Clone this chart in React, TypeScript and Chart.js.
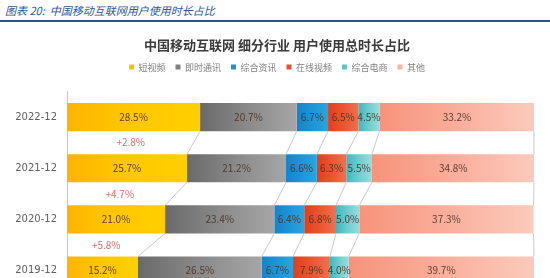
import React, { useEffect, useRef } from "react";
import { Chart, registerables } from "chart.js";

Chart.register(...registerables);

const categories = ["2022-12", "2021-12", "2020-12", "2019-12"];
const seriesNames = ["短视频", "即时通讯", "综合资讯", "在线视频", "综合电商", "其他"];
const shortVideo = [28.5, 25.7, 21.0, 15.2];
const instantMsg = [20.7, 21.2, 23.4, 26.5];
const newsInfo = [6.7, 6.6, 6.4, 6.7];
const onlineVideo = [6.5, 6.3, 6.8, 7.9];
const ecommerce = [4.5, 5.5, 5.0, 4.0];
const others = [33.2, 34.8, 37.3, 39.7];
const growthLabels = ["+2.8%", "+4.7%", "+5.8%"];

const seriesValues = [shortVideo, instantMsg, newsInfo, onlineVideo, ecommerce, others];
const gradientStops: [string, string, string][] = [
  ["#FFB400", "#FFC800", "#FFCF00"],
  ["#6A6A6A", "#8A8A8A", "#A6A6A6"],
  ["#1683C8", "#1E95D6", "#2BA4DE"],
  ["#E0401C", "#EA5530", "#F07050"],
  ["#3DB7BE", "#6FCDCF", "#9ADDDC"],
  ["#F7937B", "#FAAE9B", "#FCCABC"],
];
const legendColors = ["#FFC000", "#808080", "#1E90D0", "#E84E2C", "#60C6C8", "#F9B3A2"];

function cumulative(idx: number, upto: number) {
  let s = 0;
  for (let k = 0; k < upto; k++) s += seriesValues[k][idx];
  return s;
}

const HEADER_SHIFT = 10;

const legendGapPlugin = {
  id: "legendGap",
  beforeInit(chart: any) {
    const lg = chart.legend;
    if (!lg) return;
    const orig = lg.fit;
    lg.fit = function () {
      orig.call(this);
      this.height += 10;
    };
  },
  afterLayout(chart: any) {
    const boxes = [chart.titleBlock, chart.legend];
    boxes.forEach((b: any) => {
      if (!b) return;
      b.left += HEADER_SHIFT;
      b.right += HEADER_SHIFT;
    });
  },
};

const connectorPlugin = {
  id: "connectors",
  afterDatasetsDraw(chart: any) {
    const ctx = chart.ctx;
    const x = chart.scales.x;
    const meta0 = chart.getDatasetMeta(0);
    ctx.save();
    ctx.strokeStyle = "rgba(195,195,195,0.9)";
    ctx.lineWidth = 1;
    for (let i = 0; i < categories.length - 1; i++) {
      const a: any = meta0.data[i];
      const b: any = meta0.data[i + 1];
      if (!a || !b) continue;
      const aBottom = a.y + a.height / 2;
      const bTop = b.y - b.height / 2;
      for (let k = 1; k <= seriesValues.length; k++) {
        const xa = x.getPixelForValue(Math.min(100, cumulative(i, k)));
        const xb = x.getPixelForValue(Math.min(100, cumulative(i + 1, k)));
        ctx.beginPath();
        ctx.moveTo(xa, aBottom);
        ctx.lineTo(xb, bTop);
        ctx.stroke();
      }
      const lowerYellow = shortVideo[i + 1];
      const gx = x.getPixelForValue(lowerYellow / 2 + 0.8);
      const gy = (aBottom + bTop) / 2;
      ctx.fillStyle = "#E06A6A";
      ctx.font = "10px 'Noto Sans CJK SC', 'DejaVu Sans', sans-serif";
      ctx.textAlign = "center";
      ctx.textBaseline = "middle";
      ctx.fillText(growthLabels[i], gx, gy);
    }
    ctx.restore();
  },
};

const valueLabelPlugin = {
  id: "valueLabels",
  afterDatasetsDraw(chart: any) {
    const ctx = chart.ctx;
    ctx.save();
    ctx.font = "10px 'Noto Sans CJK SC', 'DejaVu Sans', sans-serif";
    ctx.textAlign = "center";
    ctx.textBaseline = "middle";
    ctx.fillStyle = "rgba(75,50,35,0.9)";
    chart.data.datasets.forEach((ds: any, di: number) => {
      const meta = chart.getDatasetMeta(di);
      meta.data.forEach((el: any, i: number) => {
        const v = ds.data[i];
        const cx = (el.x + el.base) / 2;
        ctx.fillText(v.toFixed(1) + "%", cx, el.y);
      });
    });
    ctx.restore();
  },
};

export default function App() {
  const ref = useRef<HTMLCanvasElement | null>(null);
  useEffect(() => {
    if (!ref.current) return;
    const chart = new Chart(ref.current, {
      type: "bar",
      data: {
        labels: categories,
        datasets: seriesNames.map((name, di) => ({
          label: name,
          data: seriesValues[di],
          borderWidth: 0,
          backgroundColor: (c: any) => {
            const ch = c.chart;
            if (!ch.chartArea || c.dataIndex === undefined || c.type !== "data") return legendColors[di];
            const xs = ch.scales.x;
            const start = cumulative(c.dataIndex, di);
            const x0 = xs.getPixelForValue(start);
            const x1 = xs.getPixelForValue(start + seriesValues[di][c.dataIndex]);
            const g = ch.ctx.createLinearGradient(x0, 0, x1, 0);
            g.addColorStop(0, gradientStops[di][0]);
            g.addColorStop(0.5, gradientStops[di][1]);
            g.addColorStop(1, gradientStops[di][2]);
            return g;
          },
        })),
      },
      options: {
        indexAxis: "y",
        responsive: false,
        animation: false,
        datasets: { bar: { categoryPercentage: 1, barPercentage: 0.55 } },
        layout: { padding: { top: 37, right: 16, bottom: 4, left: 0 } },
        scales: {
          x: { stacked: true, display: false, min: 0, max: 100 },
          y: {
            stacked: true,
            grid: { display: false, drawTicks: false },
            border: { display: true, color: "#C8C8C8", width: 1 },
            afterFit: (s: any) => { s.width = 67; },
            ticks: {
              padding: 10,
              color: "#606060",
              font: { size: 10, family: "'DejaVu Sans', 'Noto Sans', sans-serif" },
            },
          },
        },
        plugins: {
          title: {
            display: true,
            text: "中国移动互联网 细分行业 用户使用总时长占比",
            color: "#3A3A3A",
            font: { size: 13, weight: "bold", family: "'Noto Sans CJK SC', sans-serif" },
            padding: { top: 0, bottom: 0 },
          },
          legend: {
            display: true,
            position: "top",
            labels: {
              boxWidth: 5,
              boxHeight: 5,
              padding: 10,
              color: "#808080",
              font: { size: 9, family: "'Noto Sans CJK SC', sans-serif" },
              generateLabels: () =>
                seriesNames.map((n, i) => ({
                  text: n,
                  fillStyle: legendColors[i],
                  strokeStyle: legendColors[i],
                  lineWidth: 0,
                  hidden: false,
                  datasetIndex: i,
                  fontColor: "#808080",
                })),
            },
          },
          tooltip: { enabled: false },
        },
      },
      plugins: [legendGapPlugin, connectorPlugin, valueLabelPlugin],
    } as any);
    return () => chart.destroy();
  }, []);

  return (
    <div style={{ position: "fixed", left: 0, top: 0, width: 550, height: 312, background: "#fff", overflow: "hidden" }}>
      <div
        style={{
          position: "absolute",
          left: 5,
          top: 2,
          fontFamily: "'Noto Sans CJK SC', sans-serif",
          fontStyle: "italic",
          fontSize: 11,
          color: "#2F5597",
          whiteSpace: "nowrap",
        }}
      >
        图表 20:&nbsp; 中国移动互联网用户使用时长占比
      </div>
      <div style={{ position: "absolute", left: 0, top: 20, width: 550, height: 2, background: "#2E4E8C" }} />
      <canvas ref={ref} width={550} height={312} style={{ position: "absolute", left: 0, top: 0 }} />
    </div>
  );
}
